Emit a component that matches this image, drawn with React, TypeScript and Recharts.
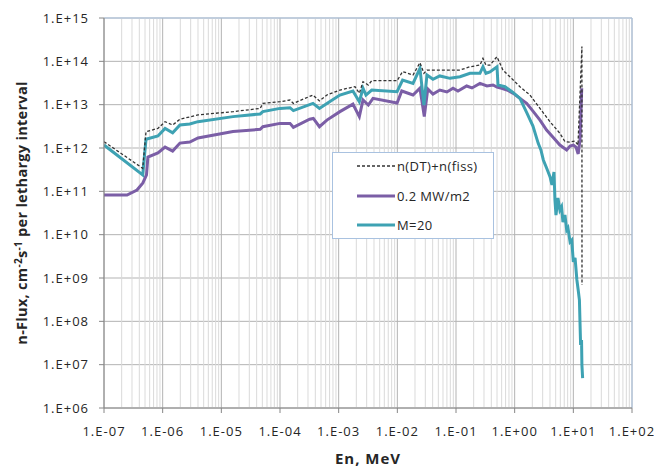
import React from 'react';
import { LineChart, Line, XAxis, YAxis, CartesianGrid, ReferenceLine } from 'recharts';

// axis decades and their Excel-style labels
const xTicks = [1e-7, 1e-6, 1e-5, 1e-4, 1e-3, 1e-2, 1e-1, 1, 10, 100];
const xTickLabels = ['1.E-07', '1.E-06', '1.E-05', '1.E-04', '1.E-03', '1.E-02', '1.E-01', '1.E+00', '1.E+01', '1.E+02'];
const yTicks = [1e6, 1e7, 1e8, 1e9, 1e10, 1e11, 1e12, 1e13, 1e14, 1e15];
const yTickLabels = ['1.E+06', '1.E+07', '1.E+08', '1.E+09', '1.E+10', '1.E+11', '1.E+12', '1.E+13', '1.E+14', '1.E+15'];

// n(DT)+n(fiss): energy (MeV) and flux
const dtFissEnergy = [1e-7, 4.57e-7, 5.2e-7, 8.3e-7, 1.1e-6, 1.48e-6, 1.97e-6, 4.0e-6, 1.58e-5, 4.6e-5, 5.1e-5, 1e-4, 1.48e-4, 1.69e-4, 3.65e-4, 4.7e-4, 6.3e-4, 1.05e-3, 1.9e-3, 2.25e-3, 2.6e-3, 3.2e-3, 3.66e-3, 9.9e-3, 1.23e-2, 1.85e-2, 2.43e-2, 2.84e-2, 3.2e-2, 5.3e-2, 0.117, 0.173, 0.256, 0.288, 0.324, 0.379, 0.5, 0.63, 0.83, 1.23, 1.82, 2.7, 4.0, 5.9, 7.2, 8.8, 10.7, 12.0, 14.0, 14.05];
const dtFissFlux = [1.4e12, 3.4e11, 2.38e12, 2.84e12, 4.05e12, 3.4e12, 4.6e12, 5.8e12, 6.9e12, 8.2e12, 1.07e13, 1.17e13, 1.28e13, 1.07e13, 1.67e13, 1.22e13, 1.67e13, 2.18e13, 2.6e13, 1.83e13, 3.4e13, 2.84e13, 3.57e13, 3.57e13, 5.8e13, 4.84e13, 9.3e13, 5.3e13, 6.3e13, 6.3e13, 6.3e13, 7.5e13, 8.2e13, 1.17e14, 8.2e13, 8.2e13, 1.28e14, 6.3e13, 4.4e13, 2.6e13, 1.67e13, 8.2e12, 4.05e12, 2.18e12, 1.4e12, 1.37e12, 1.45e12, 1.17e12, 2.2e14, 6.9e8];

// 0.2 MW/m2
const mwEnergy = [1e-7, 2.47e-7, 3.65e-7, 4.6e-7, 5.3e-7, 5.6e-7, 8.3e-7, 1.1e-6, 1.48e-6, 1.97e-6, 2.9e-6, 4.0e-6, 1.58e-5, 4.6e-5, 5.1e-5, 1e-4, 1.48e-4, 1.69e-4, 3.2e-4, 3.7e-4, 4.7e-4, 6.3e-4, 1.05e-3, 1.75e-3, 2.25e-3, 2.6e-3, 3.2e-3, 3.85e-3, 9.9e-3, 1.19e-2, 1.85e-2, 2.43e-2, 2.88e-2, 3.3e-2, 4.05e-2, 5.3e-2, 7.0e-2, 8.9e-2, 0.108, 0.152, 0.187, 0.256, 0.337, 0.427, 0.5, 0.6, 0.74, 0.95, 1.23, 1.6, 2.05, 2.7, 3.5, 4.55, 5.9, 7.7, 8.8, 10.0, 11.1, 12.1, 13.0, 13.9];
const mwFlux = [8.2e10, 8.2e10, 1.07e11, 1.56e11, 2.4e11, 6.2e11, 7.7e11, 1.05e12, 8.5e11, 1.3e12, 1.37e12, 1.7e12, 2.4e12, 2.7e12, 3.1e12, 3.7e12, 3.7e12, 3.0e12, 4.6e12, 4.8e12, 3.1e12, 4.4e12, 6.9e12, 1.03e13, 5.3e12, 1.28e13, 9.8e12, 1.4e13, 1.09e13, 2.07e13, 1.67e13, 2.4e13, 5.3e12, 2.3e13, 1.76e13, 2.18e13, 1.96e13, 2.39e13, 2.07e13, 2.7e13, 2.43e13, 3.1e13, 2.7e13, 2.84e13, 2.56e13, 2.39e13, 2.18e13, 1.83e13, 1.4e13, 1.07e13, 7.1e12, 4.4e12, 2.6e12, 1.75e12, 1.17e12, 9.0e11, 1.11e12, 1.17e12, 1.05e12, 7.3e11, 1.53e12, 2.4e13];

// M=20
const m20Energy = [1e-7, 4.57e-7, 5.2e-7, 8.3e-7, 1.1e-6, 1.48e-6, 1.97e-6, 2.9e-6, 4.0e-6, 1.58e-5, 4.6e-5, 5.1e-5, 1e-4, 1.48e-4, 1.69e-4, 3.65e-4, 4.7e-4, 6.3e-4, 1.05e-3, 1.75e-3, 2.25e-3, 2.6e-3, 2.92e-3, 3.66e-3, 9.9e-3, 1.23e-2, 1.85e-2, 2.43e-2, 2.84e-2, 3.2e-2, 4.05e-2, 5.3e-2, 7.9e-2, 0.117, 0.173, 0.256, 0.288, 0.324, 0.379, 0.5, 0.52, 0.684, 0.9, 1.23, 1.62, 2.05, 2.52, 2.8, 3.08, 3.5, 4.0, 4.32, 4.68, 4.86, 5.06, 5.47, 5.9, 6.3, 6.65, 7.2, 7.7, 8.1, 8.8, 9.4, 10.0, 10.7, 11.5, 12.1, 12.7, 13.0, 13.3, 13.8, 14.0, 14.4];
const m20Flux = [1.17e12, 2.4e11, 1.59e12, 1.89e12, 2.84e12, 2.25e12, 3.4e12, 3.58e12, 4.05e12, 5.3e12, 6.1e12, 6.9e12, 8.2e12, 8.5e12, 7.3e12, 1.07e13, 8.2e12, 1.07e13, 1.67e13, 2.07e13, 1.17e13, 2.39e13, 1.67e13, 2.18e13, 1.99e13, 3.7e13, 3.1e13, 6.9e13, 9.8e12, 4.84e13, 3.85e13, 4.6e13, 4.05e13, 4.4e13, 5.3e13, 5.3e13, 7.5e13, 5.3e13, 5.7e13, 7.5e13, 2.84e13, 2.6e13, 1.99e13, 1.4e13, 6.4e12, 3.2e12, 1.28e12, 9.0e11, 5.3e11, 3.45e11, 2.17e11, 1.4e11, 2.8e11, 6.3e10, 2.84e10, 7.0e10, 3.7e10, 4.4e10, 1.96e10, 2.84e10, 1.28e10, 1.43e10, 6.8e9, 7.5e9, 2.34e9, 2.9e9, 9.0e8, 5.3e8, 3.1e8, 9.1e7, 2.84e7, 3.7e7, 9.8e6, 4.9e6];

const toPoints = (energy: number[], flux: number[]) => energy.map((e, i) => ({ e, flux: flux[i] }));

const series = [
  { name: 'n(DT)+n(fiss)', data: toPoints(dtFissEnergy, dtFissFlux), color: '#333333', width: 1.3, dash: '3 2' },
  { name: '0.2 MW/m2', data: toPoints(mwEnergy, mwFlux), color: '#7b5ea6', width: 3, dash: undefined },
  { name: 'M=20', data: toPoints(m20Energy, m20Flux), color: '#3ea2b3', width: 3, dash: undefined },
];

// 2..9 x each decade for the light minor grid
const minorXTicks: number[] = [];
xTicks.slice(0, -1).forEach((d) => {
  for (let m = 2; m <= 9; m++) minorXTicks.push(m * d);
});

const FONT = '"Open Sans", "DejaVu Sans", sans-serif';
const tickStyle = { fontFamily: FONT, fontSize: 13, fill: '#262626', letterSpacing: 1 };

const YTitle = (props: any) => {
  const vb = props.viewBox || { x: 0, y: 18, width: 104, height: 390 };
  const cx = vb.x + 27;
  const cy = vb.y + vb.height / 2;
  return (
    <text x={cx} y={cy} transform={`rotate(-90, ${cx}, ${cy})`} textAnchor="middle"
      fontFamily={FONT} fontSize={14.5} fontWeight="bold" fill="#262626" letterSpacing={0.3}>
      n-Flux, cm<tspan dy={-5} fontSize={10}>-2</tspan>
      <tspan dy={5}>s</tspan>
      <tspan dy={-5} fontSize={10}>-1</tspan>
      <tspan dy={5}> per lethargy interval</tspan>
    </text>
  );
};

const XTitle = (props: any) => {
  const vb = props.viewBox || { x: 104, y: 408, width: 528, height: 61 };
  return (
    <text x={vb.x + vb.width / 2} y={vb.y + 56} textAnchor="middle"
      fontFamily={FONT} fontSize={15} fontWeight="bold" fill="#262626" letterSpacing={1}>
      En, MeV
    </text>
  );
};

const LegendBox = () => (
  <div style={{
    position: 'absolute', left: 332, top: 152, width: 162, height: 87, boxSizing: 'border-box',
    border: '1px solid #a9c2e0', background: '#fff', fontFamily: FONT, fontSize: 13, color: '#262626',
  }}>
    {series.map((s, i) => (
      <div key={s.name} style={{ position: 'absolute', left: 24, top: 4 + i * 29.5, height: 18, display: 'flex', alignItems: 'center' }}>
        <svg width={38} height={6} style={{ display: 'block' }}>
          <line x1={0} y1={3} x2={38} y2={3} stroke={s.color} strokeWidth={s.width} strokeDasharray={s.dash} />
        </svg>
        <span style={{ marginLeft: 2, letterSpacing: 0.4, whiteSpace: 'nowrap' }}>{s.name}</span>
      </div>
    ))}
  </div>
);

export default function App() {
  return (
    <div style={{ position: 'absolute', left: 0, top: 0, width: 654, height: 469, background: '#fff' }}>
      <LineChart width={654} height={469} margin={{ top: 18, right: 22, left: 0, bottom: 0 }}>
        <CartesianGrid stroke="#b3b3b3" />
        {minorXTicks.map((v) => (
          <ReferenceLine key={v} x={v} stroke="#dadada" strokeWidth={1} />
        ))}
        <XAxis
          dataKey="e"
          type="number"
          scale="log"
          domain={[1e-7, 100]}
          ticks={xTicks}
          allowDataOverflow
          height={61}
          stroke="#868686"
          tickSize={5}
          tickMargin={14}
          tick={tickStyle}
          tickFormatter={(v: number) => xTickLabels[xTicks.indexOf(v)]}
          label={XTitle}
        />
        <YAxis
          dataKey="flux"
          type="number"
          scale="log"
          domain={[1e6, 1e15]}
          ticks={yTicks}
          allowDataOverflow
          width={104}
          stroke="#868686"
          tickSize={5}
          tickMargin={10}
          tick={tickStyle}
          tickFormatter={(v: number) => yTickLabels[yTicks.indexOf(v)]}
          label={YTitle}
        />
        <ReferenceLine y={1e15} stroke="#a9c2e0" strokeWidth={1} />
        <ReferenceLine x={100} stroke="#a9c2e0" strokeWidth={1} />
        <Line data={series[1].data} dataKey="flux" name={series[1].name} type="linear" stroke={series[1].color}
          strokeWidth={series[1].width} dot={false} isAnimationActive={false} />
        <Line data={series[2].data} dataKey="flux" name={series[2].name} type="linear" stroke={series[2].color}
          strokeWidth={series[2].width} dot={false} isAnimationActive={false} />
        <Line data={series[0].data} dataKey="flux" name={series[0].name} type="linear" stroke={series[0].color}
          strokeWidth={series[0].width} strokeDasharray={series[0].dash} dot={false} isAnimationActive={false} />
      </LineChart>
      <LegendBox />
    </div>
  );
}
